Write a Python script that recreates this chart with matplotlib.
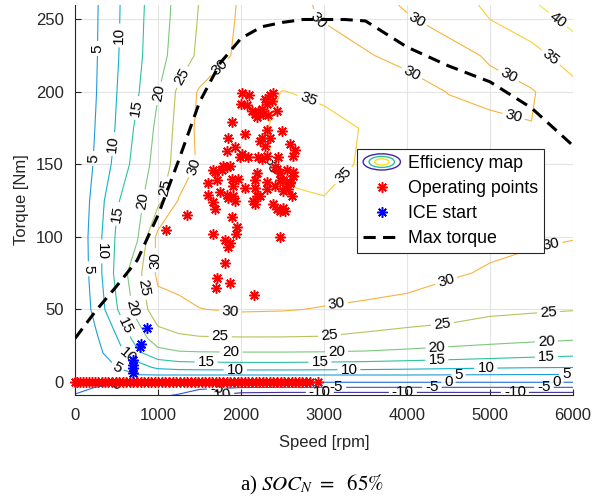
import numpy as np
import matplotlib.pyplot as plt
from matplotlib.legend_handler import HandlerBase
from matplotlib.patches import Ellipse, Rectangle

plt.rcParams['font.family'] = ['Liberation Sans', 'DejaVu Sans']
plt.rcParams['mathtext.fontset'] = 'stix'

# efficiency map grid [%]
map_speed = [0, 250, 500, 750, 1000, 1250, 1500, 2000, 2500, 3000, 3500, 4000, 4500, 5000, 5500, 6000]
map_torque = [-10, 0, 5, 10, 20, 30, 50, 75, 100, 125, 150, 175, 200, 225, 250, 270]
# one column per speed, values listed along map_torque
eff_by_speed = [
    [-0.1, 0.5, 0.5, 0.5, 0.5, 0.5, 0.5, 0.5, 0.5, 0.5, 0.5, 0.5, 0.5, 0.5, 0.5, 0.5],
    [-1.5, 0.8, 1.7, 2.5, 3.5, 4.3, 6.4, 7.4, 7.7, 6.9, 5.7, 5.2, 4.8, 4.6, 4.5, 4.4],
    [-2.5, 0.6, 3.3, 5.0, 7.8, 9.6, 14.6, 16.3, 15.6, 14.4, 11.5, 10.4, 9.9, 9.5, 9.3, 9.2],
    [-3.5, 0.5, 5.0, 7.5, 13.9, 17.3, 21.7, 23.4, 19.5, 18.6, 17.1, 16.0, 14.5, 13.9, 13.7, 13.5],
    [-4.5, 0.3, 5.2, 11.0, 18.3, 22.7, 28.2, 31.0, 31.5, 23.7, 21.9, 21.1, 19.8, 18.2, 17.8, 17.5],
    [-6.0, 0.3, 5.2, 12.0, 19.4, 24.2, 29.0, 31.5, 31.0, 30.3, 27.1, 26.6, 26.0, 22.2, 21.6, 21.3],
    [-10.0, 0.3, 5.2, 12.3, 19.6, 24.6, 29.9, 32.0, 32.5, 32.0, 30.7, 31.2, 30.6, 26.0, 25.4, 25.0],
    [-13.5, 0.3, 5.2, 12.5, 19.7, 24.7, 30.5, 33.0, 33.5, 33.5, 33.4, 33.5, 33.0, 31.3, 30.8, 30.5],
    [-14.0, 0.3, 5.2, 12.5, 19.7, 24.7, 30.3, 33.3, 33.8, 34.5, 35.6, 35.8, 35.1, 32.5, 31.0, 30.8],
    [-14.0, 0.3, 5.2, 12.3, 19.6, 24.6, 29.7, 33.0, 34.0, 34.8, 36.3, 36.0, 34.4, 32.0, 29.8, 29.5],
    [-14.0, 0.3, 5.2, 12.0, 19.4, 23.8, 29.2, 32.3, 33.5, 33.5, 34.5, 34.8, 33.0, 30.3, 28.5, 29.3],
    [-14.0, 0.3, 5.2, 11.5, 19.0, 22.7, 28.8, 31.5, 32.5, 33.0, 33.0, 32.5, 31.5, 29.0, 29.7, 31.0],
    [-14.0, 0.3, 5.1, 11.0, 18.5, 22.0, 27.8, 30.5, 31.8, 32.5, 32.0, 31.3, 29.9, 29.0, 31.0, 33.0],
    [-14.0, 0.3, 5.0, 10.5, 17.8, 21.5, 26.1, 29.6, 31.0, 32.0, 31.5, 30.8, 29.2, 30.3, 35.0, 37.5],
    [-14.0, 0.3, 4.9, 10.2, 17.0, 21.0, 25.6, 28.8, 30.6, 31.5, 31.0, 30.1, 29.6, 33.5, 37.5, 41.0],
    [-14.0, 0.3, 4.8, 10.0, 16.4, 20.5, 25.2, 28.0, 30.2, 31.0, 31.0, 31.5, 33.5, 37.0, 41.5, 44.0],
]
levels = [-10, -5, 0, 5, 10, 15, 20, 25, 30, 35, 40]

# max torque curve
mt_speed = [0, 250, 500, 750, 1000, 1250, 1500, 1750, 2000, 2250, 2500, 2750, 3000,
            3250, 3500, 3750, 4000, 4500, 5000, 5500, 6000]
mt_torque = [30, 49, 66, 84, 115, 153, 193, 220, 237, 245, 248, 250, 250,
             250, 249, 240, 231, 218, 207, 189, 163]

# operating points
op_speed = [2016, 2096, 1996, 2068, 2128, 2169, 2209, 2189, 2249, 2309, 2289, 2349, 2390, 2269,
            2329, 2438, 2369, 1888, 2048, 1848, 1928, 2309, 2249, 2229, 2490, 2590, 2651, 2631,
            1827, 2008, 1988, 2209, 2249, 2450, 1787, 1827, 1667, 1707, 1606, 1888, 1968, 1908,
            2189, 2169, 2430, 2470, 2550, 2631, 2470, 2590, 1747, 1827, 1908, 1928, 2048, 2169,
            2229, 2149, 2169, 1606, 1667, 1687, 1346, 1888, 1948, 1667, 1940, 1807, 1867, 1848,
            1807, 1707, 1699, 1867, 2157, 2390, 2470, 2530, 2470, 2410, 2510, 2570, 2610, 1100,
            2349, 2289, 2309, 2410, 2631, 2309, 2309, 2189, 1843, 1767, 1687, 1867, 2088, 2430,
            2510, 2530, 2590, 2510]
op_torque = [199, 198, 192, 191, 187, 185, 186, 183, 188, 192, 195, 198, 199, 185,
             184, 187, 194, 179, 171, 168, 162, 174, 168, 166, 173, 164, 160, 156,
             159, 157, 155, 155, 154, 155, 149, 148, 146, 139, 137, 140, 140, 135,
             144, 139, 147, 144, 146, 145, 139, 137, 131, 129, 128, 125, 134, 134,
             128, 125, 123, 129, 124, 119, 115, 114, 107, 102, 102, 98, 96, 93,
             82, 72, 65, 68, 60, 123, 118, 118, 100, 135, 132, 133, 128, 105,
             168, 163, 156, 148, 142, 138, 133, 128, 127, 146, 145, 149, 155, 119,
             139, 134, 138, 120]
# engine idle / off points along zero torque
idle_speed = [0, 25, 60, 95, 130, 165, 200, 240, 280, 320, 360, 400, 445, 490, 530, 575, 620,
              660, 700, 745, 790, 830, 875, 920, 960, 1005, 1050, 1090, 1135, 1180, 1220, 1265,
              1310, 1350, 1395, 1440, 1480, 1525, 1570, 1610, 1655, 1700, 1740, 1785, 1830, 1870,
              1915, 1960, 2000, 2045, 2090, 2130, 2175, 2220, 2260, 2305, 2350, 2390, 2435, 2480,
              2520, 2565, 2610, 2650, 2695, 2740, 2780, 2830, 2930]
idle_torque = [0] * len(idle_speed)

# ICE start events
ice_speed = [703, 703, 703, 703, 780, 790, 863]
ice_torque = [6.5, 9.5, 12, 15, 24, 26, 37]

level_colors = ['#3f2f9c', '#3553d6', '#2a72e0', '#1f9bd9', '#14b1c9', '#2ec1a2',
                '#7cc87e', '#b9c25a', '#f7b33f', '#f9cf30', '#eeea26']

label_pos = {
    -10: [(1750, -8.3), (2950, -8.3), (3950, -8.3), (5300, -7)],
    -5: [(1707, -5.5), (3150, -3), (4300, -3.3), (5650, -3.5)],
    0: [(500, -2), (4500, 0), (5800, 0)],
    5: [(277, 230), (240, 154), (120, 78), (506, 10), (4620, 5), (5920, 5.5)],
    10: [(550, 239), (470, 164), (310, 90), (620, 17), (1930, 8), (3300, 8), (4950, 8.5)],
    15: [(740, 189), (500, 116), (578, 38), (1580, 11.7), (2950, 13), (4360, 14), (5680, 16.5)],
    20: [(1015, 199), (780, 125), (663, 51), (1880, 18.6), (3150, 20), (4360, 22.7), (5680, 26.9)],
    25: [(1325, 209), (1060, 134), (800, 64.5), (1750, 29.6), (3070, 31), (4430, 38), (5710, 45.4)],
    30: [(1725, 218), (1360, 151), (925, 84), (1870, 48), (3150, 55), (4480, 68), (5750, 91),
         (2930, 250), (4120, 250), (5240, 213), (5280, 182), (4040, 211)],
    35: [(2790, 191), (3210, 144), (2310, 148), (5720, 223)],
    40: [(5780, 247)],
}


class ContourIcon(HandlerBase):
    def create_artists(self, legend, orig_handle, xdescent, ydescent, width, height, fontsize, trans):
        cx = width / 2 - xdescent
        cy = height / 2 - ydescent
        arts = []
        for f, c in [(1.0, '#3e26a8'), (0.68, '#2fbfa0'), (0.38, '#f2e21a')]:
            arts.append(Ellipse((cx, cy), width * f, height * 1.3 * f, fill=False,
                                edgecolor=c, lw=1.0, transform=trans))
        return arts


fig = plt.figure(figsize=(6.08, 4.98), dpi=100)
ax = fig.add_axes([75 / 608, 1 - 395 / 498, 498 / 608, 390 / 498])

X, Y = np.meshgrid(map_speed, map_torque)
Z = np.array(eff_by_speed).T

for lv, col in zip(levels, level_colors):
    cs = ax.contour(X, Y, Z, levels=[lv], colors=[col], linewidths=0.8,
                    negative_linestyles='solid')
    if label_pos.get(lv):
        ax.clabel(cs, manual=label_pos[lv], fontsize=11, inline=True, inline_spacing=3,
                  fmt=lambda v: f'{v:g}', colors='k')

ax.plot(idle_speed, idle_torque, ls='none', marker=(8, 2, 0), ms=7.5, mec='r', mew=1.1,
        zorder=4, clip_on=False)
op_line, = ax.plot(op_speed, op_torque, ls='none', marker=(8, 2, 0), ms=7.5, mec='r', mew=1.1,
                   zorder=4)
ice_line, = ax.plot(ice_speed, ice_torque, ls='none', marker=(8, 2, 0), ms=7.5, mec='b', mew=1.1,
                    zorder=5)
mt_line, = ax.plot(mt_speed, mt_torque, color='k', ls='--', lw=2.2, dashes=(4, 2.4), zorder=6)

ax.set_xlim(0, 6000)
ax.set_ylim(-9, 260)
ax.set_xticks(range(0, 6001, 1000))
ax.set_yticks(range(0, 251, 50))
ax.grid(True, color='#e4e4e4', lw=0.8)
ax.set_axisbelow(True)
for s in ['top', 'right']:
    ax.spines[s].set_visible(False)
for s in ['left', 'bottom']:
    ax.spines[s].set_color('#262626')
    ax.spines[s].set_linewidth(0.8)
ax.tick_params(direction='in', length=4, labelsize=12, colors='#262626', width=0.8)
ax.tick_params(axis='x', pad=9)
ax.tick_params(axis='y', pad=8)
ax.set_xlabel('Speed [rpm]', fontsize=12, color='#262626', labelpad=9)
ax.set_ylabel('Torque [Nm]', fontsize=12, color='#262626', labelpad=5)

map_proxy = Rectangle((0, 0), 1, 1)
leg = ax.legend([map_proxy, op_line, ice_line, mt_line],
                ['Efficiency map', 'Operating points', 'ICE start', 'Max torque'],
                handler_map={map_proxy: ContourIcon()},
                loc='upper left', bbox_to_anchor=(0.566, 0.631), borderaxespad=0,
                fontsize=12.8, fancybox=False, framealpha=1, edgecolor='#262626',
                handlelength=2.1, handletextpad=0.4, labelspacing=0.45, borderpad=0.35)
leg.get_frame().set_linewidth(0.8)
leg.set_zorder(10)

fig.text(312 / 608, 1 - 485 / 498, r'a) $SOC_N\ =\ \ 65\%$', ha='center', va='center',
         fontsize=15, family='Liberation Serif')

fig.savefig('out.png', dpi=100)
